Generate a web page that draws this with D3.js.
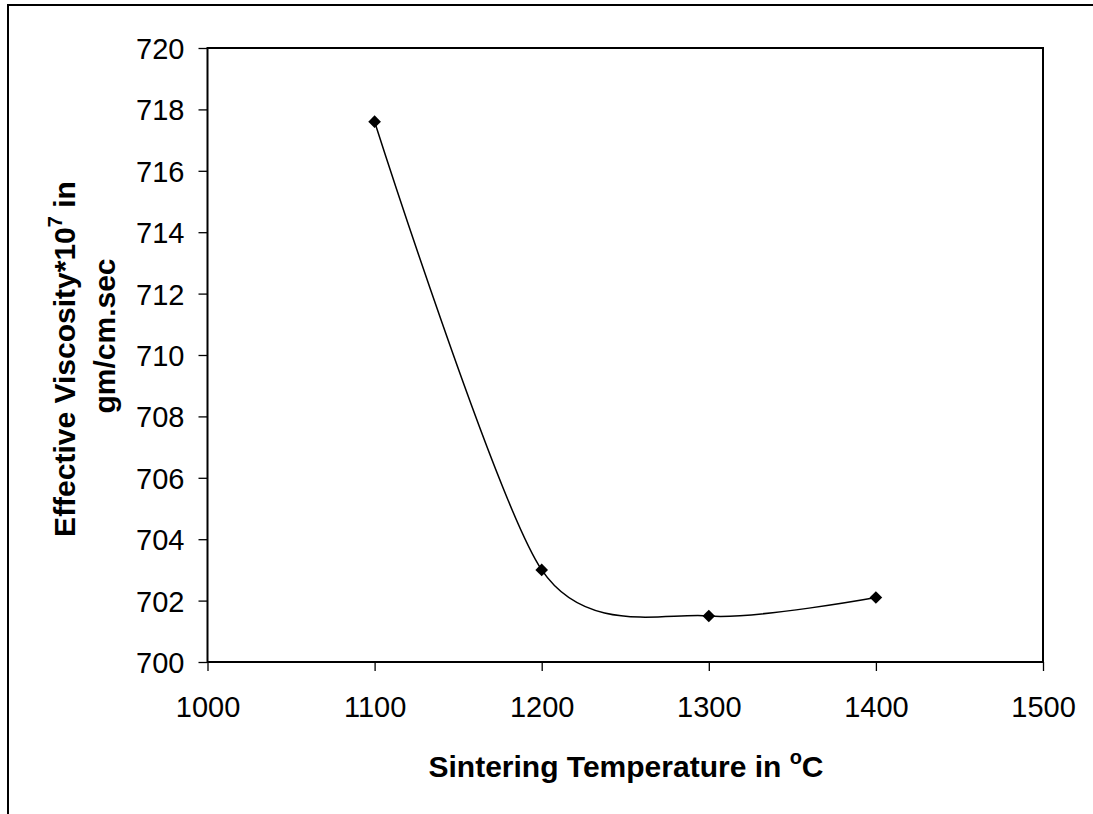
<!DOCTYPE html>
<html><head><meta charset="utf-8">
<script src="https://cdn.jsdelivr.net/npm/d3@7"></script>
<style>body{margin:0;background:#fff}svg{display:block}text{font-family:"Liberation Sans",Arial,sans-serif;fill:#000}</style>
</head><body>
<svg id="c" width="1093" height="814"></svg>
<script>
const temps = [1100, 1200, 1300, 1400];
const viscosity = [717.6, 703.0, 701.5, 702.1];
const xTicks = [1000, 1100, 1200, 1300, 1400, 1500];
const yTicks = [700, 702, 704, 706, 708, 710, 712, 714, 716, 718, 720];

const svg = d3.select("#c");
const L = 207.5, R = 1043, T = 48, B = 662;
const x = d3.scaleLinear().domain([1000, 1500]).range([L, R]);
const y = d3.scaleLinear().domain([700, 720]).range([B, T]);

// outer border
svg.append("path").attr("d", "M8,814 V5 H1093").attr("fill", "none").attr("stroke", "#000").attr("stroke-width", 2);

// plot box
svg.append("rect").attr("x", L).attr("y", T).attr("width", R - L).attr("height", B - T)
  .attr("fill", "none").attr("stroke", "#000").attr("stroke-width", 2);

const xa = svg.append("g").attr("transform", `translate(0,${B})`)
  .call(d3.axisBottom(x).tickValues(xTicks).tickSize(9).tickPadding(25).tickFormat(d3.format("d")));
const ya = svg.append("g").attr("transform", `translate(${L},0)`)
  .call(d3.axisLeft(y).tickValues(yTicks).tickSize(9).tickPadding(14).tickFormat(d3.format("d")));
[xa, ya].forEach(g => {
  g.select(".domain").remove();
  g.selectAll("line").attr("stroke", "#000").attr("stroke-width", 1.3);
  g.selectAll("text").style("font-size", "29px").style("font-family", '"Liberation Sans",Arial,sans-serif').attr("fill", "#000");
});
ya.selectAll("text").attr("dy", "0.36em");

// line
const pts = temps.map((t, i) => [t, viscosity[i]]);
svg.append("path").datum(pts)
  .attr("d", d3.line().x(d => x(d[0])).y(d => y(d[1])).curve(d3.curveCardinal.tension(0.2)))
  .attr("fill", "none").attr("stroke", "#000").attr("stroke-width", 1.5);

// markers
svg.selectAll(".m").data(pts).join("path").attr("class", "m")
  .attr("d", d3.symbol().type(d3.symbolSquare).size(80))
  .attr("transform", d => `translate(${x(d[0])},${y(d[1])}) rotate(45)`)
  .attr("fill", "#000");

// x title
const xt = svg.append("text").attr("x", 626).attr("y", 777).attr("text-anchor", "middle")
  .style("font-size", "30px").style("font-weight", "bold");
xt.append("tspan").text("Sintering Temperature in ");
xt.append("tspan").text("o").style("font-size", "20px").attr("dy", -13);
xt.append("tspan").text("C").attr("dy", 13);

// y title
const yt1 = svg.append("text").attr("transform", "translate(75,359) rotate(-90)").attr("text-anchor", "middle")
  .style("font-size", "30px").style("font-weight", "bold");
yt1.append("tspan").text("Effective Viscosity*10");
yt1.append("tspan").text("7").style("font-size", "20px").attr("dy", -13);
yt1.append("tspan").text(" in").attr("dy", 13);
svg.append("text").attr("transform", "translate(115,336) rotate(-90)").attr("text-anchor", "middle")
  .style("font-size", "30px").style("font-weight", "bold").text("gm/cm.sec");
</script>
</body></html>
